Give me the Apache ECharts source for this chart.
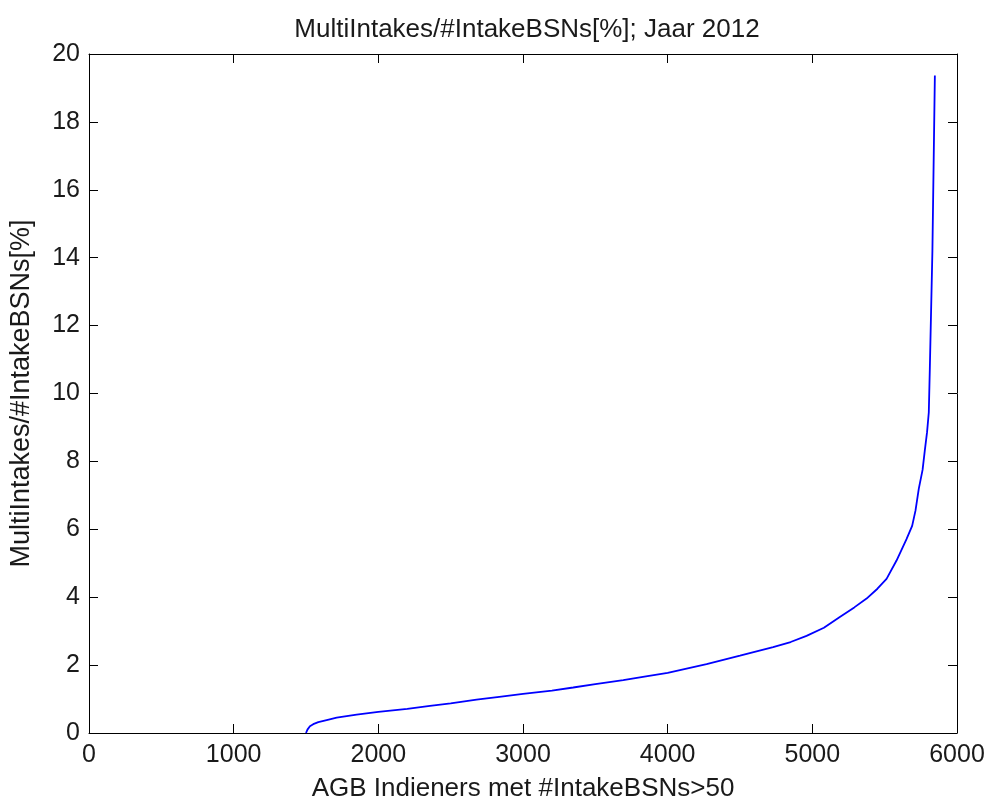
<!DOCTYPE html>
<html>
<head>
<meta charset="utf-8">
<script src="https://cdn.jsdelivr.net/npm/echarts@6/dist/echarts.min.js"></script>
<style>
html,body{margin:0;padding:0;background:#fff;}
#chart{width:989px;height:807px;}
</style>
</head>
<body>
<div id="chart"></div>
<script>
// AGB index (x) and MultiIntakes/#IntakeBSNs [%] (y)
var xValues = [1500, 1510, 1527, 1550, 1585, 1650, 1712, 1850, 2000, 2200, 2357, 2500, 2679, 2850, 3000, 3200, 3347, 3500, 3693, 3850, 4000, 4269, 4500, 4729, 4850, 4960, 5080, 5190, 5290, 5375, 5450, 5513, 5582, 5651, 5690, 5713, 5736, 5762, 5777, 5793, 5805, 5812, 5830, 5847];
var yValues = [0, 0.1, 0.2, 0.26, 0.32, 0.39, 0.45, 0.54, 0.62, 0.71, 0.8, 0.87, 0.98, 1.07, 1.15, 1.25, 1.34, 1.44, 1.56, 1.67, 1.77, 2.03, 2.28, 2.53, 2.68, 2.86, 3.1, 3.42, 3.7, 3.96, 4.25, 4.54, 5.08, 5.71, 6.1, 6.55, 7.2, 7.75, 8.3, 8.86, 9.44, 10.7, 14.2, 19.37];

var titleText = 'MultiIntakes/#IntakeBSNs[%]; Jaar 2012';
var xName = 'AGB Indieners met #IntakeBSNs>50';
var yName = 'MultiIntakes/#IntakeBSNs[%]';

var points = xValues.map(function (x, i) { return [x, yValues[i]]; });

var FONT = "'Liberation Sans', Arial, Helvetica, sans-serif";
var TXT = '#1a1a1a';
var lineStyle = { color: '#000', width: 1 };
function plain(v) { return String(v); }

function baseAxis(extra) {
  var a = {
    type: 'value',
    axisLine: { show: true, onZero: false, lineStyle: lineStyle },
    axisTick: { show: true, inside: true, length: 9, lineStyle: lineStyle },
    splitLine: { show: false },
    axisLabel: { show: true, fontFamily: FONT, fontSize: 25, color: TXT, formatter: plain }
  };
  for (var k in extra) a[k] = extra[k];
  return a;
}

var chart = echarts.init(document.getElementById('chart'), null, { renderer: 'canvas' });
chart.setOption({
  animation: false,
  backgroundColor: '#fff',
  title: {
    text: titleText,
    left: 522,
    textAlign: 'center',
    top: 12,
    textStyle: { fontFamily: FONT, fontSize: 26, fontWeight: 'normal', color: TXT }
  },
  grid: { left: 89, right: 32, top: 54, bottom: 70, containLabel: false },
  xAxis: [
    baseAxis({
      position: 'bottom', min: 0, max: 6000, interval: 1000,
      name: xName, nameLocation: 'middle', nameGap: 43,
      nameTextStyle: { fontFamily: FONT, fontSize: 26, color: TXT },
      axisLabel: { show: true, fontFamily: FONT, fontSize: 25, color: TXT, margin: 10, formatter: plain }
    }),
    baseAxis({
      position: 'top', min: 0, max: 6000, interval: 1000,
      axisLabel: { show: false }
    })
  ],
  yAxis: [
    baseAxis({
      position: 'left', min: 0, max: 20, interval: 2,
      name: yName, nameLocation: 'middle', nameGap: 54,
      nameTextStyle: { fontFamily: FONT, fontSize: 27, color: TXT },
      axisLabel: { show: true, fontFamily: FONT, fontSize: 25, color: TXT, margin: 9, formatter: plain }
    }),
    baseAxis({
      position: 'right', min: 0, max: 20, interval: 2,
      axisLabel: { show: false }
    })
  ],
  series: [{
    type: 'line',
    xAxisIndex: 0,
    yAxisIndex: 0,
    data: points,
    showSymbol: false,
    symbol: 'none',
    smooth: false,
    lineStyle: { color: '#0000ff', width: 1.8 }
  }]
});
</script>
</body>
</html>
